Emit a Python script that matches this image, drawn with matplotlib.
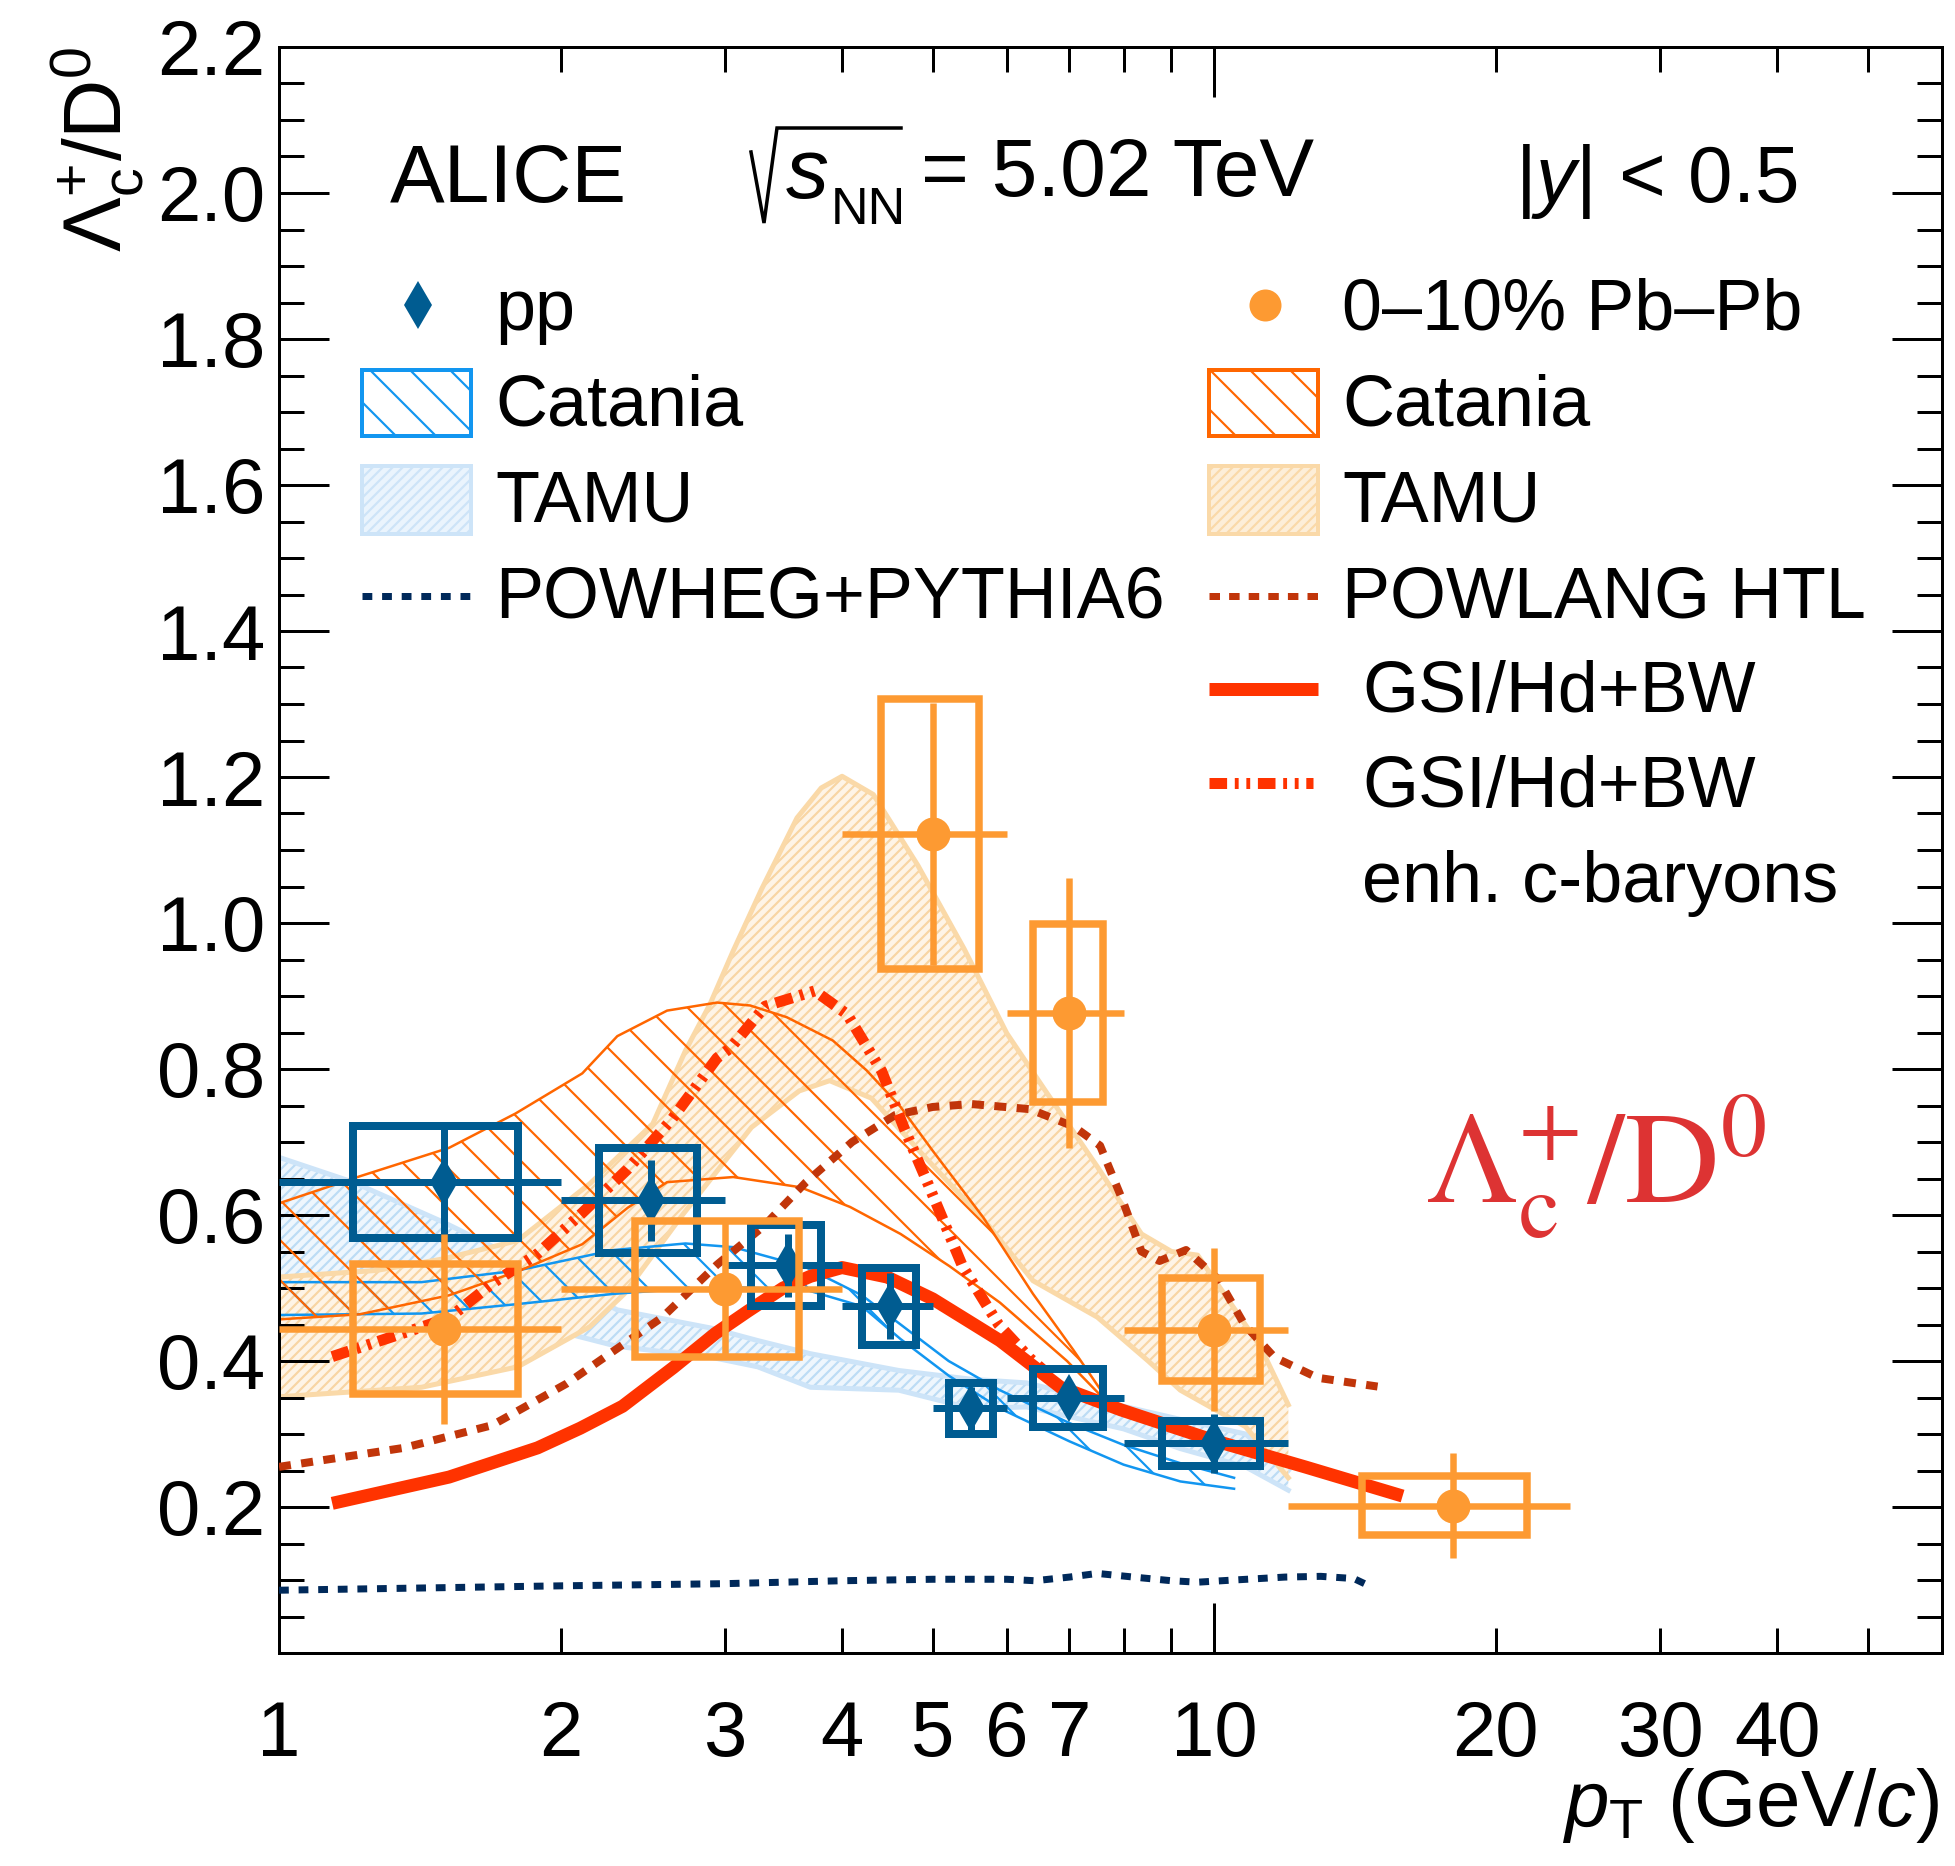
import numpy as np
import matplotlib
matplotlib.use("Agg")
import matplotlib.pyplot as plt
from matplotlib.patches import Rectangle
from matplotlib.lines import Line2D
from matplotlib.ticker import FixedLocator, FuncFormatter, MultipleLocator

# ---- data ----
# pp
pp_pt = np.array([1.5, 2.5, 3.5, 4.5, 5.5, 7.0, 10.0])
pp_lo = np.array([1.0, 2.0, 3.0, 4.0, 5.0, 6.0, 8.0])
pp_hi = np.array([2.0, 3.0, 4.0, 5.0, 6.0, 8.0, 12.0])
pp_val = np.array([0.645, 0.620, 0.531, 0.475, 0.335, 0.349, 0.287])
pp_stat = np.array([0.080, 0.056, 0.043, 0.045, 0.030, 0.021, 0.040])
pp_sys = np.array([0.077, 0.072, 0.055, 0.053, 0.035, 0.040, 0.031])
pp_box_hw = np.array([0.3, 0.3, 0.3, 0.3, 0.3, 0.6, 1.2])

# 0-10% Pb-Pb
pb_pt = np.array([1.5, 3.0, 5.0, 7.0, 10.0, 18.0])
pb_lo = np.array([1.0, 2.0, 4.0, 6.0, 8.0, 12.0])
pb_hi = np.array([2.0, 4.0, 6.0, 8.0, 12.0, 24.0])
pb_val = np.array([0.444, 0.499, 1.122, 0.877, 0.443, 0.202])
pb_stat = np.array([0.130, 0.093, 0.180, 0.185, 0.112, 0.072])
pb_sys = np.array([0.089, 0.093, 0.185, 0.122, 0.071, 0.040])
pb_box_hw = np.array([0.3, 0.6, 0.6, 0.6, 1.2, 3.6])

# TAMU Pb-Pb band
tamu_pb_up_pt = [1.0, 1.27, 1.5, 1.8, 2.15, 2.51, 2.72, 2.89, 3.06, 3.28, 3.58, 3.8,
                 4.0, 4.32, 4.82, 5.4, 6.0, 6.6, 7.5, 8.36, 9.0, 9.6, 10.4, 11.2, 12.0]
tamu_pb_up = [0.515, 0.524, 0.54, 0.565, 0.643, 0.725, 0.825, 0.889, 0.962, 1.046, 1.144, 1.185,
              1.201, 1.176, 1.079, 0.965, 0.849, 0.77, 0.666, 0.574, 0.55, 0.545, 0.48, 0.42, 0.34]
tamu_pb_lo_pt = [1.0, 1.42, 1.8, 2.15, 2.34, 2.7, 3.2, 3.6, 3.88, 4.3, 4.9, 5.7, 6.4,
                 7.5, 8.5, 9.2, 10.8, 12.0]
tamu_pb_lo = [0.351, 0.364, 0.392, 0.447, 0.492, 0.60, 0.72, 0.77, 0.784, 0.76, 0.68, 0.59, 0.51,
              0.46, 0.40, 0.36, 0.31, 0.24]

# TAMU pp band
tamu_pp_pt = [1.0, 1.2, 1.5, 1.8, 2.3, 2.9, 3.25, 3.7, 4.6, 5.5, 6.3, 8.0, 9.2, 10.8, 12.0]
tamu_pp_up = [0.679, 0.645, 0.59, 0.54, 0.47, 0.445, 0.428, 0.41, 0.387, 0.375, 0.37, 0.338,
              0.32, 0.30, 0.25]
tamu_pp_lo = [0.515, 0.50, 0.475, 0.455, 0.42, 0.405, 0.392, 0.364, 0.36, 0.335, 0.337, 0.307,
              0.28, 0.255, 0.223]

# Catania pp band
cat_pp_pt = [1.0, 1.42, 1.8, 2.28, 2.72, 3.06, 3.65, 4.2, 4.62, 5.2, 5.9, 7.0, 8.0, 9.2, 10.5]
cat_pp_up = [0.508, 0.508, 0.524, 0.552, 0.561, 0.556, 0.529, 0.49, 0.45, 0.40, 0.36, 0.315,
             0.285, 0.26, 0.24]
cat_pp_lo = [0.463, 0.465, 0.478, 0.492, 0.499, 0.501, 0.498, 0.475, 0.43, 0.38, 0.335, 0.29,
             0.258, 0.235, 0.225]

# Catania Pb-Pb band
cat_pb_up_pt = [1.0, 1.22, 1.52, 1.79, 2.11, 2.3, 2.6, 2.94, 3.19, 3.49, 3.91, 4.25, 4.62,
                5.0, 5.66, 6.4, 7.07, 7.8]
cat_pb_up = [0.616, 0.653, 0.692, 0.739, 0.794, 0.845, 0.880, 0.891, 0.887, 0.871, 0.839, 0.798,
             0.748, 0.688, 0.597, 0.492, 0.415, 0.335]
cat_pb_lo_pt = [1.0, 1.22, 1.52, 1.81, 2.11, 2.36, 2.6, 3.06, 3.61, 4.08, 4.62, 5.21, 5.9,
                6.96, 7.8]
cat_pb_lo = [0.457, 0.464, 0.49, 0.524, 0.56, 0.61, 0.645, 0.652, 0.638, 0.611, 0.574, 0.53,
             0.48, 0.40, 0.335]

# POWHEG+PYTHIA6
powheg_pt = [1.0, 2.0, 3.0, 4.0, 5.0, 6.0, 6.43, 7.0, 7.5, 8.2, 9.0, 9.6, 10.5, 11.9, 13.0,
             14.1, 14.7]
powheg = [0.086, 0.092, 0.095, 0.099, 0.101, 0.101, 0.099, 0.104, 0.109, 0.104, 0.099, 0.097,
          0.100, 0.104, 0.105, 0.102, 0.091]

# POWLANG HTL
powlang_pt = [1.0, 1.36, 1.69, 2.03, 2.57, 2.94, 3.3, 3.66, 4.1, 4.56, 5.0, 5.5, 6.35, 7.08,
              7.55, 7.98, 8.36, 8.74, 9.33, 10.1, 10.77, 11.6, 12.9, 14.95]
powlang = [0.255, 0.281, 0.312, 0.369, 0.46, 0.532, 0.585, 0.645, 0.70, 0.737, 0.748, 0.752,
           0.745, 0.721, 0.695, 0.620, 0.550, 0.537, 0.552, 0.512, 0.45, 0.405, 0.377, 0.365]

# GSI/Hd+BW
gsi_pt = [1.14, 1.52, 1.89, 2.1, 2.33, 2.64, 2.93, 3.17, 3.46, 3.7, 4.0, 4.47, 5.0, 5.44, 5.9,
          6.85, 7.95, 10.0, 12.5, 15.9]
gsi = [0.205, 0.241, 0.281, 0.308, 0.338, 0.391, 0.438, 0.468, 0.50, 0.516, 0.528, 0.515,
       0.485, 0.456, 0.428, 0.364, 0.333, 0.291, 0.255, 0.215]

# GSI/Hd+BW enh. c-baryons
gsi_enh_pt = [1.14, 1.52, 1.69, 1.89, 2.11, 2.36, 2.63, 2.94, 3.04, 3.31, 3.74, 4.05, 4.41,
              4.66, 4.93, 5.38, 5.88, 6.35, 6.6]
gsi_enh = [0.406, 0.459, 0.506, 0.547, 0.603, 0.663, 0.731, 0.815, 0.829, 0.886, 0.907, 0.875,
           0.797, 0.719, 0.646, 0.53, 0.45, 0.404, 0.385]

# ---- style ----
W, H, DPI = 1955, 1866, 120
PT = 72.0 / DPI  # points per pixel

plt.rcParams['font.family'] = ['Liberation Sans', 'DejaVu Sans']
plt.rcParams['mathtext.fontset'] = 'custom'
plt.rcParams['mathtext.rm'] = 'Liberation Sans'
plt.rcParams['mathtext.it'] = 'Liberation Sans:italic'
plt.rcParams['mathtext.bf'] = 'Liberation Sans:bold'
plt.rcParams['hatch.linewidth'] = 1.3

c_pp = '#005c91'
c_pb = '#fd9a32'
c_cat_pp = '#1296f0'
c_cat_pb = '#ff6600'
c_tamu_pb = '#fad9a8'
c_tamu_pp = '#cde4f8'
c_powheg = '#00295a'
c_powlang = '#c1350a'
c_gsi = '#ff3300'

fig = plt.figure(figsize=(W / DPI, H / DPI), dpi=DPI)
ax = fig.add_axes([279 / W, 1 - 1653 / H, (1942 - 279) / W, (1653 - 47) / H])


def band(xu, yu, xl, yl, **kw):
    xs = np.concatenate([xu, xl[::-1]])
    ys = np.concatenate([yu, yl[::-1]])
    ax.fill(xs, ys, **kw)


# TAMU bands
band(np.array(tamu_pp_pt), np.array(tamu_pp_up), np.array(tamu_pp_pt), np.array(tamu_pp_lo),
     facecolor='#eef6fd', edgecolor='#bcdcf5', hatch='////', linewidth=0, zorder=1)
ax.plot(tamu_pp_pt, tamu_pp_up, color=c_tamu_pp, lw=5 * PT, zorder=1.1)
ax.plot(tamu_pp_pt, tamu_pp_lo, color=c_tamu_pp, lw=5 * PT, zorder=1.1)

band(np.array(tamu_pb_up_pt), np.array(tamu_pb_up), np.array(tamu_pb_lo_pt), np.array(tamu_pb_lo),
     facecolor='#fef4e6', edgecolor='#f8d5a3', hatch='////', linewidth=0, zorder=1.2)
ax.plot(tamu_pb_up_pt, tamu_pb_up, color=c_tamu_pb, lw=5 * PT, zorder=1.3)
ax.plot(tamu_pb_lo_pt, tamu_pb_lo, color=c_tamu_pb, lw=5 * PT, zorder=1.3)

# Catania bands
band(np.array(cat_pp_pt), np.array(cat_pp_up), np.array(cat_pp_pt), np.array(cat_pp_lo),
     facecolor='none', edgecolor=c_cat_pp, hatch='\\', linewidth=0, zorder=2)
ax.plot(cat_pp_pt, cat_pp_up, color=c_cat_pp, lw=2.5 * PT, zorder=2.1)
ax.plot(cat_pp_pt, cat_pp_lo, color=c_cat_pp, lw=2.5 * PT, zorder=2.1)

band(np.array(cat_pb_up_pt), np.array(cat_pb_up), np.array(cat_pb_lo_pt), np.array(cat_pb_lo),
     facecolor='none', edgecolor=c_cat_pb, hatch='\\', linewidth=0, zorder=2.2)
ax.plot(cat_pb_up_pt, cat_pb_up, color=c_cat_pb, lw=2.5 * PT, zorder=2.3)
ax.plot(cat_pb_lo_pt, cat_pb_lo, color=c_cat_pb, lw=2.5 * PT, zorder=2.3)

# model curves
ls_powheg = (0, (1.4, 1.4))
ls_powlang = (0, (1.5, 1.3))
ls_gsi_enh = (0, (1.6, 0.7, 0.35, 0.7, 0.35, 0.7))
ax.plot(powheg_pt, powheg, color=c_powheg, lw=7 * PT, ls=ls_powheg, zorder=3)
ax.plot(powlang_pt, powlang, color=c_powlang, lw=8 * PT, ls=ls_powlang, zorder=3)
ax.plot(gsi_pt, gsi, color=c_gsi, lw=13 * PT, solid_capstyle='butt', solid_joinstyle='round',
        zorder=3.1)
ax.plot(gsi_enh_pt, gsi_enh, color=c_gsi, lw=11 * PT, ls=ls_gsi_enh, zorder=3.1)

# data: pp
for x, y, hw, s in zip(pp_pt, pp_val, pp_box_hw, pp_sys):
    ax.add_patch(Rectangle((x - hw, y - s), 2 * hw, 2 * s, fill=False,
                           edgecolor=c_pp, lw=8 * PT, zorder=4))
ax.errorbar(pp_pt, pp_val, xerr=[pp_pt - pp_lo, pp_hi - pp_pt], yerr=pp_stat, fmt='none',
            ecolor=c_pp, elinewidth=7 * PT, capsize=0, zorder=4.1)
ax.plot(pp_pt, pp_val, ls='none', marker='d', ms=34 * PT, color=c_pp, mew=0, zorder=4.2)

# data: Pb-Pb
for x, y, hw, s in zip(pb_pt, pb_val, pb_box_hw, pb_sys):
    ax.add_patch(Rectangle((x - hw, y - s), 2 * hw, 2 * s, fill=False,
                           edgecolor=c_pb, lw=7.5 * PT, zorder=5))
ax.errorbar(pb_pt, pb_val, xerr=[pb_pt - pb_lo, pb_hi - pb_pt], yerr=pb_stat, fmt='none',
            ecolor=c_pb, elinewidth=6.5 * PT, capsize=0, zorder=5.1)
ax.plot(pb_pt, pb_val, ls='none', marker='o', ms=34 * PT, color=c_pb, mew=0, zorder=5.2)

# ---- axes ----
ax.set_xscale('log')
ax.set_xlim(1, 60)
ax.set_ylim(0, 2.2)
ax.xaxis.set_major_locator(FixedLocator([1, 10]))
ax.xaxis.set_minor_locator(FixedLocator([2, 3, 4, 5, 6, 7, 8, 9, 20, 30, 40, 50]))
shown = {1, 2, 3, 4, 5, 6, 7, 10, 20, 30, 40}
fmt_x = FuncFormatter(lambda v, p: '%d' % round(v) if round(v) in shown else '')
ax.xaxis.set_major_formatter(fmt_x)
ax.xaxis.set_minor_formatter(fmt_x)
ax.yaxis.set_major_locator(MultipleLocator(0.2))
ax.yaxis.set_minor_locator(MultipleLocator(0.05))
ax.yaxis.set_major_formatter(FuncFormatter(lambda v, p: '' if abs(v) < 1e-6 else '%.1f' % v))

for sp in ax.spines.values():
    sp.set_linewidth(3 * PT)
ax.tick_params(which='both', direction='in', top=True, right=True, width=3 * PT,
               labelsize=78 * PT)
ax.tick_params(which='major', length=50 * PT)
ax.tick_params(which='minor', length=25 * PT)
ax.tick_params(axis='x', which='both', pad=46 * PT)
ax.tick_params(axis='y', which='both', pad=14 * PT)


def fx(px):
    return px / W


def fy(py):
    return 1 - py / H


fs_leg = 72 * PT
fs_head = 82 * PT

# axis titles
fig.text(fx(98), fy(46), r'$\Lambda_{\mathrm{c}}^{+}/\mathrm{D}^{0}$', rotation=90,
         ha='center', va='top', fontsize=82 * PT)
fig.text(fx(1940), fy(1826), r'$p_{\mathrm{T}}$ (GeV/$c$)', ha='right', va='baseline',
         fontsize=80 * PT)

# header
fig.text(fx(390), fy(202), 'ALICE', ha='left', va='baseline', fontsize=fs_head)
# sqrt(s_NN) put together by hand: radical, italic s, NN subscript
fig.add_artist(Line2D([fx(751), fx(764), fx(777), fx(901)], [fy(152), fy(223), fy(128), fy(128)],
                      transform=fig.transFigure, color='black', lw=3.5 * PT,
                      solid_joinstyle='miter'))
fig.text(fx(786), fy(198), 's', style='italic', ha='left', va='baseline', fontsize=86 * PT)
fig.text(fx(831), fy(224), 'NN', ha='left', va='baseline', fontsize=52 * PT)
fig.text(fx(921), fy(196), '= 5.02 TeV', ha='left', va='baseline', fontsize=fs_head)
fig.text(fx(1515), fy(202), r'|$y$| < 0.5', ha='left', va='baseline', fontsize=80 * PT)

# red label
fig.text(fx(1425), fy(1203), r'$\Lambda_{\mathrm{c}}^{+}/\mathrm{D}^{0}$', ha='left',
         va='baseline', fontsize=131 * PT, color='#dd3333', math_fontfamily='stix')


# ---- legend (drawn by hand) ----
def leg_box(x0, y0, x1, y1, **kw):
    fig.add_artist(Rectangle((fx(x0), fy(y1)), (x1 - x0) / W, (y1 - y0) / H,
                             transform=fig.transFigure, **kw))


def leg_line(x0, x1, y, **kw):
    fig.add_artist(Line2D([fx(x0), fx(x1)], [fy(y), fy(y)], transform=fig.transFigure, **kw))


def leg_text(x, y, s):
    fig.text(fx(x), fy(y), s, ha='left', va='baseline', fontsize=fs_leg)


# left column
fig.add_artist(Line2D([fx(418)], [fy(305)], transform=fig.transFigure, ls='none', marker='d',
                      ms=34 * PT, color=c_pp, mew=0))
leg_box(362, 370, 471, 436, facecolor='white', edgecolor=c_cat_pp, hatch='\\', lw=4 * PT)
leg_box(362, 466, 471, 534, facecolor='#eaf4fd', edgecolor=c_tamu_pp, hatch='////', lw=4 * PT)
leg_line(362, 471, 596, color=c_powheg, lw=7 * PT, ls=ls_powheg)
leg_text(495, 330, 'pp')
leg_text(495, 426, 'Catania')
leg_text(495, 521, 'TAMU')
leg_text(495, 618, 'POWHEG+PYTHIA6')

# right column
fig.add_artist(Line2D([fx(1265)], [fy(305)], transform=fig.transFigure, ls='none', marker='o',
                      ms=32 * PT, color=c_pb, mew=0))
leg_box(1209, 370, 1318, 436, facecolor='white', edgecolor=c_cat_pb, hatch='\\', lw=4 * PT)
leg_box(1209, 466, 1318, 534, facecolor='#fdeed8', edgecolor=c_tamu_pb, hatch='////', lw=4 * PT)
leg_line(1209, 1318, 596, color=c_powlang, lw=7 * PT, ls=ls_powlang)
leg_line(1209, 1318, 689, color=c_gsi, lw=13 * PT, solid_capstyle='butt')
leg_line(1209, 1313, 783, color=c_gsi, lw=11 * PT, ls=ls_gsi_enh)
leg_text(1342, 330, '0\u201310% Pb\u2013Pb')
leg_text(1342, 426, 'Catania')
leg_text(1342, 521, 'TAMU')
leg_text(1342, 618, 'POWLANG HTL')
leg_text(1362, 712, 'GSI/Hd+BW')
leg_text(1362, 807, 'GSI/Hd+BW')
leg_text(1362, 902, 'enh. c-baryons')

fig.savefig('out.png', dpi=DPI)
